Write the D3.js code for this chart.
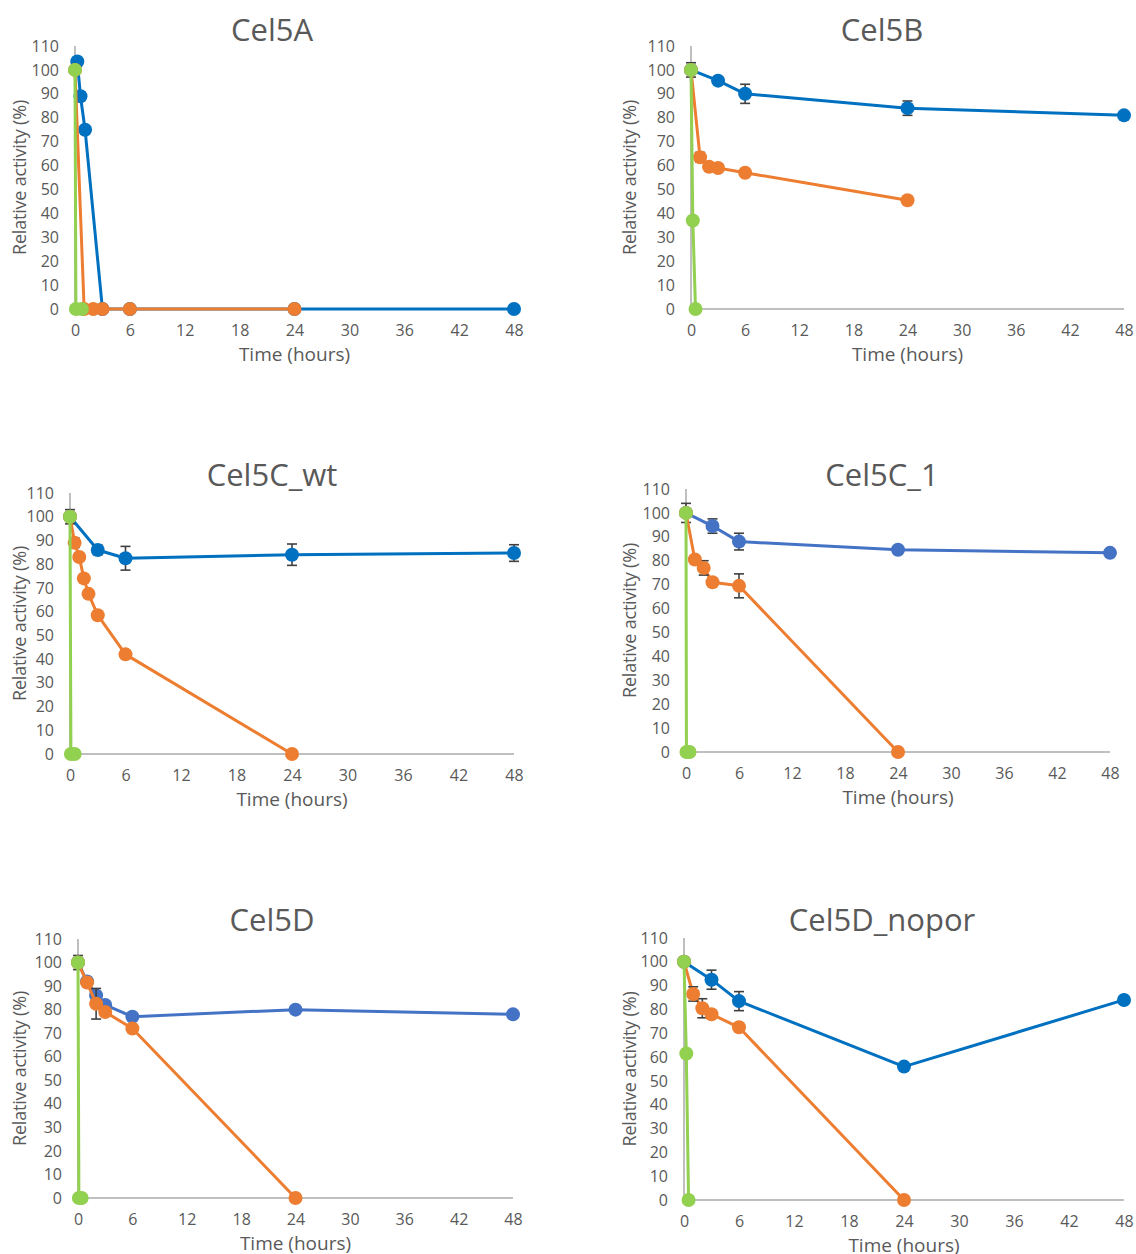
<!DOCTYPE html>
<head>
    <meta charset="utf-8">
    <title>Relative activity</title>
    <script type="text/javascript" src="https://d3js.org/d3.v7.min.js"></script>
    <style>
        body { margin: 0; background: #fff; }
        svg text { font-family: "Open Sans", "Noto Sans", sans-serif; fill: #595959; }
    </style>
</head>
<body>
<div id="container"></div>
<script>
    //-----------------------------DATA------------------------------//
    // each point: [time in hours, relative activity %, optional error]
    const titles = ["Cel5A", "Cel5B", "Cel5C_wt", "Cel5C_1", "Cel5D", "Cel5D_nopor"];
    const xTicks = [0, 6, 12, 18, 24, 30, 36, 42, 48];
    const yTicks = [0, 10, 20, 30, 40, 50, 60, 70, 80, 90, 100, 110];

    const cel5A_blue   = [[0.25, 103.5], [0.6, 89], [1.1, 75], [3, 0], [6, 0], [24, 0], [48, 0]];
    const cel5A_orange = [[0, 100], [1, 0], [2, 0], [3, 0], [6, 0], [24, 0]];
    const cel5A_green  = [[0, 100], [0.1, 0], [0.75, 0]];

    const cel5B_blue   = [[0, 100, 3], [3, 95.5], [6, 90, 4], [24, 84, 3], [48, 81]];
    const cel5B_orange = [[0, 100], [1, 63.5, 2], [2, 59.5, 1.5], [3, 59], [6, 57], [24, 45.5]];
    const cel5B_green  = [[0, 100], [0.2, 37], [0.5, 0]];

    const cel5Cwt_blue   = [[0, 100, 3], [3, 86, 2], [6, 82.5, 5], [24, 84, 4.5], [48, 84.7, 3.5]];
    const cel5Cwt_orange = [[0, 100], [0.5, 89, 2], [1, 83], [1.5, 74], [2, 67.5], [3, 58.5], [6, 42], [24, 0]];
    const cel5Cwt_green  = [[0, 100], [0.1, 0], [0.5, 0]];

    const cel5C1_blue   = [[0, 100, 4], [3, 94.5, 3], [6, 88, 3.5], [24, 84.6], [48, 83.3]];
    const cel5C1_orange = [[0, 100], [1, 80.5], [2, 77, 3], [3, 71], [6, 69.5, 5], [24, 0]];
    const cel5C1_green  = [[0, 100], [0.05, 0], [0.4, 0]];

    const cel5D_blue   = [[0, 100, 3], [1, 92], [2, 86], [3, 82], [6, 77], [24, 80], [48, 78]];
    const cel5D_orange = [[0, 100], [1, 91.5], [2, 82.5, 6.5], [3, 79], [6, 72], [24, 0]];
    const cel5D_green  = [[0, 100], [0.1, 0], [0.4, 0]];

    const cel5Dnopor_blue   = [[0, 100], [3, 92.5, 4], [6, 83.5, 4], [24, 56], [48, 84]];
    const cel5Dnopor_orange = [[0, 100], [1, 86.5, 3], [2, 80.5, 4], [3, 78], [6, 72.5], [24, 0]];
    const cel5Dnopor_green  = [[0, 100], [0.25, 61.5], [0.5, 0]];

    const panelSeries = [
        [cel5A_blue, cel5A_orange, cel5A_green],
        [cel5B_blue, cel5B_orange, cel5B_green],
        [cel5Cwt_blue, cel5Cwt_orange, cel5Cwt_green],
        [cel5C1_blue, cel5C1_orange, cel5C1_green],
        [cel5D_blue, cel5D_orange, cel5D_green],
        [cel5Dnopor_blue, cel5Dnopor_orange, cel5Dnopor_green]
    ];

    //----------------------------LAYOUT-----------------------------//
    // plot area of every panel (pixels), title centre, y-title x, blue shade
    const layouts = [
        {left: 75,  right: 514,  bottom: 309,  top: 46,  titleX: 272, titleY: 41,  yTitleX: 20,  blue: "#0070C0"},
        {left: 691, right: 1124, bottom: 309,  top: 46,  titleX: 882, titleY: 41,  yTitleX: 630, blue: "#0070C0"},
        {left: 70,  right: 514,  bottom: 754,  top: 493, titleX: 272, titleY: 486, yTitleX: 20,  blue: "#0070C0"},
        {left: 686, right: 1110, bottom: 752,  top: 489, titleX: 882, titleY: 486, yTitleX: 630, blue: "#4472C4"},
        {left: 78,  right: 513,  bottom: 1198, top: 939, titleX: 272, titleY: 931, yTitleX: 20,  blue: "#4472C4"},
        {left: 684, right: 1124, bottom: 1200, top: 938, titleX: 882, titleY: 931, yTitleX: 630, blue: "#0070C0"}
    ];
    const orange = "#ED7D31";
    const green = "#92D050";

    const svg = d3.select("div#container").append("svg")
        .attr("width", 1136)
        .attr("height", 1254);

    //-------------------------DRAWING-------------------------------//
    layouts.forEach(function(lay, i) {
        const g = svg.append("g");
        const xScale = d3.scaleLinear().domain([0, 48]).range([lay.left, lay.right]);
        const yScale = d3.scaleLinear().domain([0, 110]).range([lay.bottom, lay.top]);

        // title
        g.append("text")
            .attr("x", lay.titleX)
            .attr("y", lay.titleY)
            .attr("text-anchor", "middle")
            .style("font-size", "31px")
            .text(titles[i]);

        // y tick labels
        const yaxis = d3.axisLeft(yScale).tickValues(yTicks).tickSize(0).tickPadding(16);
        g.append("g")
            .attr("transform", `translate(${lay.left}, 0)`)
            .call(yaxis)
            .call(a => a.select(".domain").remove())
            .selectAll("text")
            .style("font-size", "16px")
            .style("fill", "#595959")
            .style("font-family", "'Open Sans', sans-serif");

        // x tick labels
        const xaxis = d3.axisBottom(xScale).tickValues(xTicks).tickSize(0).tickPadding(16);
        g.append("g")
            .attr("transform", `translate(0, ${lay.bottom})`)
            .call(xaxis)
            .call(a => a.select(".domain").remove())
            .selectAll("text")
            .style("font-size", "16px")
            .style("fill", "#595959")
            .style("font-family", "'Open Sans', sans-serif");

        // axis lines
        g.append("line")
            .attr("x1", xScale(0)).attr("x2", xScale(48))
            .attr("y1", yScale(0)).attr("y2", yScale(0))
            .attr("stroke", "#BFBFBF").attr("stroke-width", 2);
        g.append("line")
            .attr("x1", xScale(0)).attr("x2", xScale(0))
            .attr("y1", yScale(0)).attr("y2", yScale(110))
            .attr("stroke", "#BFBFBF").attr("stroke-width", 2);

        // axis titles
        g.append("text")
            .attr("x", (lay.left + lay.right) / 2)
            .attr("y", lay.bottom + 52)
            .attr("text-anchor", "middle")
            .style("font-size", "19px")
            .text("Time (hours)");
        g.append("text")
            .attr("transform", `translate(${lay.yTitleX}, ${(lay.top + lay.bottom) / 2}) rotate(-90)`)
            .attr("text-anchor", "middle")
            .attr("dy", "0.35em")
            .style("font-size", "18px")
            .style("letter-spacing", "-0.2px")
            .text("Relative activity (%)");

        //----------------------------LINES------------------------------//
        const line = d3.line()
            .x(d => xScale(d[0]))
            .y(d => yScale(d[1]));
        const colors = [lay.blue, orange, green];

        panelSeries[i].forEach(function(values, s) {
            const sg = g.append("g");
            sg.append("path")
                .attr("d", line(values))
                .attr("fill", "none")
                .attr("stroke", colors[s])
                .attr("stroke-width", 3)
                .attr("stroke-linejoin", "round");

            const withErr = values.filter(d => d[2]);
            const eb = sg.selectAll(".err")
                .data(withErr)
                .enter()
                .append("g")
                .attr("stroke", "#404040")
                .attr("stroke-width", 1.6);
            eb.append("line")
                .attr("x1", d => xScale(d[0])).attr("x2", d => xScale(d[0]))
                .attr("y1", d => yScale(d[1] - d[2])).attr("y2", d => yScale(d[1] + d[2]));
            eb.append("line")
                .attr("x1", d => xScale(d[0]) - 5).attr("x2", d => xScale(d[0]) + 5)
                .attr("y1", d => yScale(d[1] + d[2])).attr("y2", d => yScale(d[1] + d[2]));
            eb.append("line")
                .attr("x1", d => xScale(d[0]) - 5).attr("x2", d => xScale(d[0]) + 5)
                .attr("y1", d => yScale(d[1] - d[2])).attr("y2", d => yScale(d[1] - d[2]));

            sg.selectAll("circle")
                .data(values)
                .enter()
                .append("circle")
                .attr("cx", d => xScale(d[0]))
                .attr("cy", d => yScale(d[1]))
                .attr("r", 7)
                .attr("fill", colors[s]);
        });
    });
</script>
</body>
